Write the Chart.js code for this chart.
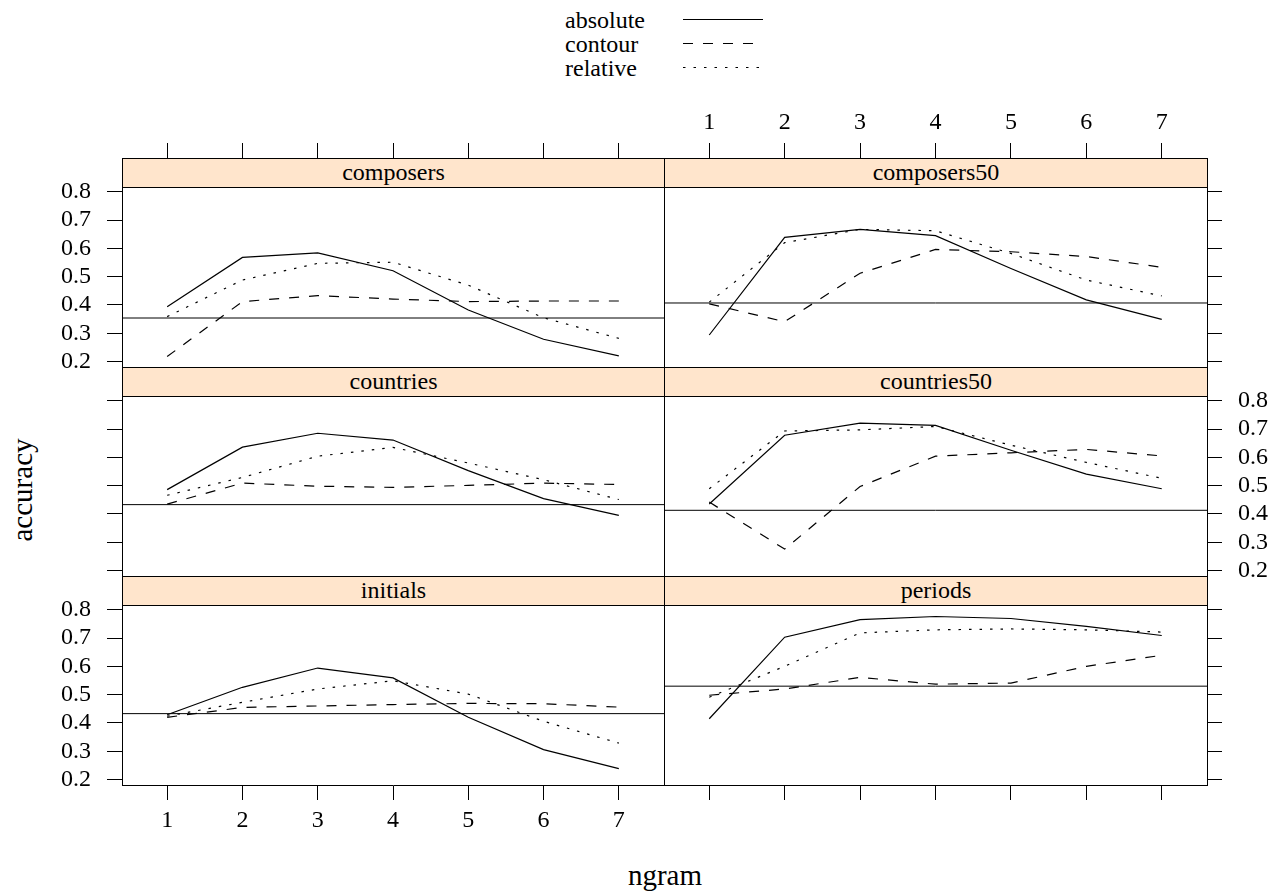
<!DOCTYPE html>
<html>
<head>
<meta charset="utf-8">
<script src="https://cdn.jsdelivr.net/npm/chart.js@4.4.1/dist/chart.umd.min.js"></script>
<style>
  html, body { margin:0; padding:0; background:#fff; }
  body { width:1275px; height:893px; position:relative; overflow:hidden; font-family:"Liberation Serif", serif; color:#000; }
  canvas { position:absolute; }
  .strip { position:absolute; box-sizing:border-box; background:#ffe5cc; border:1px solid #000;
           font-size:24px; line-height:26px; text-align:center; }
  .lbl { position:absolute; font-size:29px; white-space:nowrap; }
  .legend { position:absolute; left:565px; top:8px; font-size:24px; line-height:24px; }
  .legend div { height:24px; position:relative; }
  .legend svg { position:absolute; left:118px; top:0; }
</style>
</head>
<body>
<div class="legend">
  <div>absolute<svg width="82" height="24"><line x1="0" y1="11.5" x2="80" y2="11.5" stroke="#000" stroke-width="1.2"/></svg></div>
  <div>contour<svg width="82" height="24"><line x1="0" y1="11.5" x2="80" y2="11.5" stroke="#000" stroke-width="1.2" stroke-dasharray="10 10"/></svg></div>
  <div>relative<svg width="82" height="24"><line x1="0" y1="11.5" x2="80" y2="11.5" stroke="#000" stroke-width="1.2" stroke-dasharray="2.5 8"/></svg></div>
</div>
<div class="lbl" style="left:22px; top:490px; transform:translate(-50%,-50%) rotate(-90deg);">accuracy</div>
<div class="lbl" style="left:665px; top:875px; transform:translate(-50%,-50%);">ngram</div>
<script>
// ---- data ----
const ngram = [1, 2, 3, 4, 5, 6, 7];
const panelNames = ['composers', 'composers50', 'countries', 'countries50', 'initials', 'periods'];
const xTickLabels = ['1', '2', '3', '4', '5', '6', '7'];
const yTickValues = [0.2, 0.3, 0.4, 0.5, 0.6, 0.7, 0.8];

const absoluteComposers   = [0.394, 0.568, 0.584, 0.521, 0.382, 0.279, 0.220];
const absoluteComposers50 = [0.294, 0.639, 0.667, 0.645, 0.529, 0.418, 0.349];
const absoluteCountries   = [0.486, 0.636, 0.685, 0.661, 0.553, 0.454, 0.395];
const absoluteCountries50 = [0.435, 0.678, 0.721, 0.713, 0.625, 0.541, 0.489];
const absoluteInitials    = [0.429, 0.526, 0.594, 0.559, 0.420, 0.306, 0.239];
const absolutePeriods     = [0.415, 0.703, 0.765, 0.776, 0.769, 0.741, 0.709];

const contourComposers    = [0.218, 0.412, 0.433, 0.421, 0.412, 0.414, 0.414];
const contourComposers50  = [0.404, 0.341, 0.512, 0.596, 0.588, 0.571, 0.533];
const contourCountries    = [0.435, 0.509, 0.498, 0.494, 0.501, 0.509, 0.504];
const contourCountries50  = [0.442, 0.276, 0.497, 0.604, 0.616, 0.628, 0.605];
const contourInitials     = [0.420, 0.455, 0.460, 0.465, 0.469, 0.468, 0.456];
const contourPeriods      = [0.498, 0.520, 0.561, 0.537, 0.541, 0.600, 0.639];

const relativeComposers   = [0.359, 0.488, 0.547, 0.551, 0.470, 0.355, 0.282];
const relativeComposers50 = [0.410, 0.620, 0.667, 0.662, 0.582, 0.488, 0.432];
const relativeCountries   = [0.466, 0.529, 0.604, 0.635, 0.580, 0.521, 0.451];
const relativeCountries50 = [0.489, 0.693, 0.697, 0.709, 0.643, 0.582, 0.526];
const relativeInitials    = [0.424, 0.473, 0.520, 0.549, 0.502, 0.406, 0.329];
const relativePeriods     = [0.491, 0.600, 0.718, 0.729, 0.732, 0.729, 0.721];

const baseline = [0.354, 0.407, 0.433, 0.413, 0.433, 0.530];

const absolute = [absoluteComposers, absoluteComposers50, absoluteCountries, absoluteCountries50, absoluteInitials, absolutePeriods];
const contour  = [contourComposers, contourComposers50, contourCountries, contourCountries50, contourInitials, contourPeriods];
const relative = [relativeComposers, relativeComposers50, relativeCountries, relativeCountries50, relativeInitials, relativePeriods];

// ---- layout ----
const FONT = {family: '"Liberation Serif", serif', size: 24};
const M = 80;                      // axis margin around each panel
const colLeft = [122, 664];
const colWidth = [542, 543];
const rowTop = [158, 367, 576];
const STRIP = 29, PANEL = 180;
const X_MIN = 0.4, X_MAX = 7.6;
const Y_MIN = 0.181, Y_MAX = 0.919; // includes strip band above 0.8166

function scale(horizontal, position, showTicks, showLabels, min, max, tickVals, fmt) {
  return {
    type: 'linear', position, min, max, display: true,
    afterBuildTicks: s => { s.ticks = tickVals.map(v => ({value: v})); },
    afterFit: s => { if (horizontal) s.height = M; else s.width = M; },
    grid: {display: showTicks, drawOnChartArea: false, drawTicks: showTicks,
           tickLength: showTicks ? 15 : 0, color: '#000', lineWidth: 1},
    border: {display: true, color: '#000', width: 1},
    ticks: {display: showLabels, autoSkip: false, maxRotation: 0, minRotation: 0,
            padding: horizontal ? 6 : 16, color: '#000', font: FONT,
            callback: fmt}
  };
}

const fmtX = v => xTickLabels[ngram.indexOf(v)];
const fmtY = v => v.toFixed(1);

panelNames.forEach((name, i) => {
  const col = i % 2, row = Math.floor(i / 2);
  const left = colLeft[col], top = rowTop[row], w = colWidth[col], h = STRIP + PANEL;
  const cv = document.createElement('canvas');
  cv.width = w + 2 * M; cv.height = h + 2 * M;
  cv.style.left = (left - M) + 'px'; cv.style.top = (top - M) + 'px';
  cv.style.width = cv.width + 'px'; cv.style.height = cv.height + 'px';
  document.body.appendChild(cv);

  const pts = arr => ngram.map((x, k) => ({x, y: arr[k]}));
  const line = (data, dash, width) => ({data, borderColor: '#000', borderWidth: width,
    borderDash: dash, pointRadius: 0, fill: false, tension: 0});

  new Chart(cv.getContext('2d'), {
    type: 'line',
    data: {
      datasets: [
        line([{x: X_MIN, y: baseline[i]}, {x: X_MAX, y: baseline[i]}], [], 1),
        line(pts(absolute[i]), [], 1.2),
        line(pts(contour[i]), [10, 10], 1.2),
        line(pts(relative[i]), [2.5, 8], 1.2)
      ]
    },
    options: {
      responsive: false, animation: false, devicePixelRatio: 1,
      layout: {padding: 0},
      plugins: {legend: {display: false}, tooltip: {enabled: false}},
      scales: {
        x:  scale(true, 'bottom', row === 2, row === 2 && col === 0, X_MIN, X_MAX, ngram, fmtX),
        x2: scale(true, 'top', row === 0, row === 0 && col === 1, X_MIN, X_MAX, ngram, fmtX),
        y:  scale(false, 'left', col === 0, col === 0 && row !== 1, Y_MIN, Y_MAX, yTickValues, fmtY),
        y2: scale(false, 'right', col === 1, col === 1 && row === 1, Y_MIN, Y_MAX, yTickValues, fmtY)
      }
    }
  });
  const strip = document.createElement('div');
  strip.className = 'strip';
  strip.textContent = name;
  strip.style.left = left + 'px'; strip.style.top = top + 'px';
  strip.style.width = (w + 1) + 'px'; strip.style.height = (STRIP + 1) + 'px';
  document.body.appendChild(strip);
});
</script>
</body>
</html>
